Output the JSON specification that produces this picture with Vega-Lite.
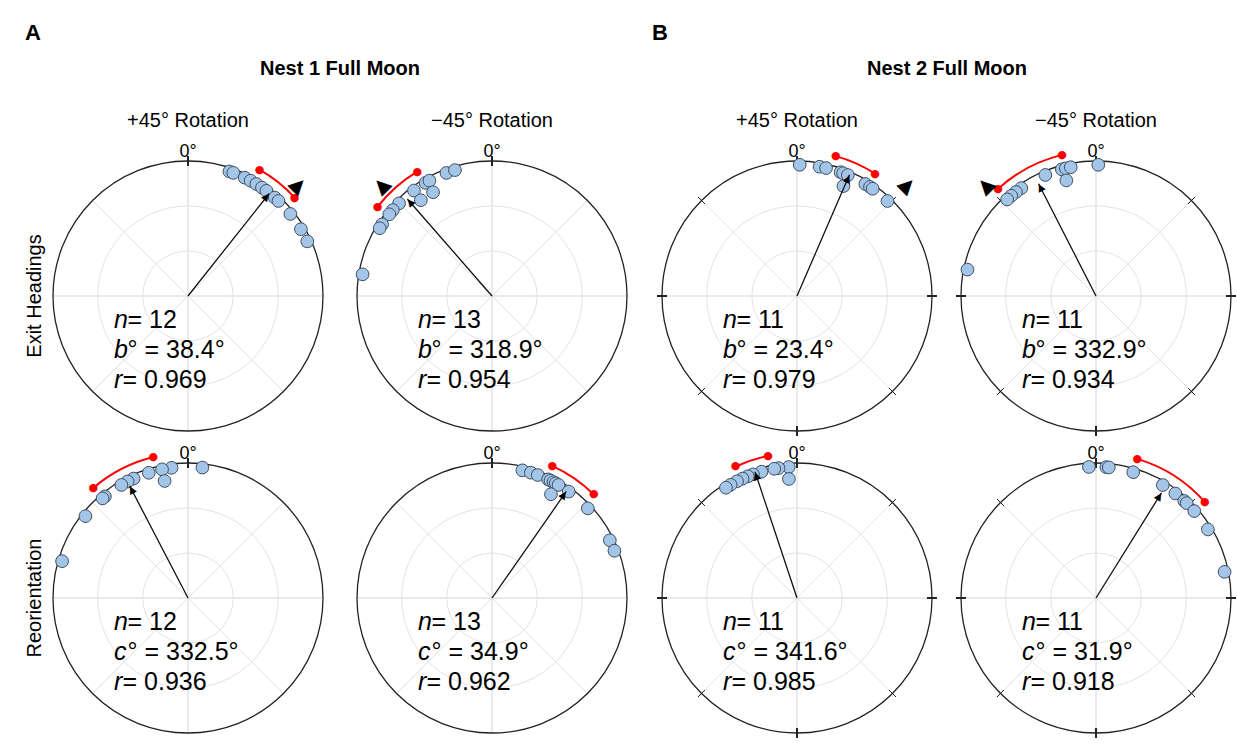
{
  "$schema": "https://vega.github.io/schema/vega-lite/v6.json",
  "padding": {"left": 24, "top": 22, "right": 5, "bottom": 5},
  "background": "white",
  "config": {"view": {"stroke": null}, "font": "Liberation Sans"},
  "data": {"values": [
    {"nest":"N1","measure":"Exit Headings","rot":"+45° Rotation","kind":"cell","n":12,"stat":"b","mean":38.4,"r":0.969,"lo":29.5,"hi":47.3,"exp":45,"spokes":[0,45,90,135,180,225,270,315]},
    {"nest":"N1","measure":"Exit Headings","rot":"−45° Rotation","kind":"cell","n":13,"stat":"b","mean":318.9,"r":0.954,"lo":308,"hi":329,"exp":315,"spokes":[0,45,90,135,180,225,270,315]},
    {"nest":"N1","measure":"Reorientation","rot":"+45° Rotation","kind":"cell","n":12,"stat":"c","mean":332.5,"r":0.936,"lo":319.3,"hi":346.2,"exp":null,"spokes":[0,45,90,135,180,225,270,315]},
    {"nest":"N1","measure":"Reorientation","rot":"−45° Rotation","kind":"cell","n":13,"stat":"c","mean":34.9,"r":0.962,"lo":24.5,"hi":44.5,"exp":null,"spokes":[0,45,90,135,180,225,270,315]},
    {"nest":"N2","measure":"Exit Headings","rot":"+45° Rotation","kind":"cell","n":11,"stat":"b","mean":23.4,"r":0.979,"lo":15.5,"hi":32.5,"exp":45,"spokes":[0,45,90,135,180,225,270,315]},
    {"nest":"N2","measure":"Exit Headings","rot":"−45° Rotation","kind":"cell","n":11,"stat":"b","mean":332.9,"r":0.934,"lo":317.5,"hi":346.5,"exp":315,"spokes":[0,45,90,135,180,225,270,315]},
    {"nest":"N2","measure":"Reorientation","rot":"+45° Rotation","kind":"cell","n":11,"stat":"c","mean":341.6,"r":0.985,"lo":335,"hi":348.5,"exp":null,"spokes":[0,45,90,135,180,225,270,315]},
    {"nest":"N2","measure":"Reorientation","rot":"−45° Rotation","kind":"cell","n":11,"stat":"c","mean":31.9,"r":0.918,"lo":16.5,"hi":48.5,"exp":null,"spokes":[0,45,90,135,180,225,270,315]},

    {"nest":"N1","measure":"Exit Headings","rot":"+45° Rotation","kind":"pt","angle":18.4,"stack":0},
    {"nest":"N1","measure":"Exit Headings","rot":"+45° Rotation","kind":"pt","angle":20.2,"stack":0},
    {"nest":"N1","measure":"Exit Headings","rot":"+45° Rotation","kind":"pt","angle":25.6,"stack":0},
    {"nest":"N1","measure":"Exit Headings","rot":"+45° Rotation","kind":"pt","angle":28.5,"stack":0},
    {"nest":"N1","measure":"Exit Headings","rot":"+45° Rotation","kind":"pt","angle":31.4,"stack":0},
    {"nest":"N1","measure":"Exit Headings","rot":"+45° Rotation","kind":"pt","angle":34.3,"stack":0},
    {"nest":"N1","measure":"Exit Headings","rot":"+45° Rotation","kind":"pt","angle":36.7,"stack":0},
    {"nest":"N1","measure":"Exit Headings","rot":"+45° Rotation","kind":"pt","angle":41.4,"stack":0},
    {"nest":"N1","measure":"Exit Headings","rot":"+45° Rotation","kind":"pt","angle":43.6,"stack":0},
    {"nest":"N1","measure":"Exit Headings","rot":"+45° Rotation","kind":"pt","angle":51.3,"stack":0},
    {"nest":"N1","measure":"Exit Headings","rot":"+45° Rotation","kind":"pt","angle":59.4,"stack":0},
    {"nest":"N1","measure":"Exit Headings","rot":"+45° Rotation","kind":"pt","angle":65.4,"stack":0},

    {"nest":"N1","measure":"Exit Headings","rot":"−45° Rotation","kind":"pt","angle":339.7,"stack":0},
    {"nest":"N1","measure":"Exit Headings","rot":"−45° Rotation","kind":"pt","angle":343.6,"stack":0},
    {"nest":"N1","measure":"Exit Headings","rot":"−45° Rotation","kind":"pt","angle":329.6,"stack":0},
    {"nest":"N1","measure":"Exit Headings","rot":"−45° Rotation","kind":"pt","angle":331.5,"stack":0},
    {"nest":"N1","measure":"Exit Headings","rot":"−45° Rotation","kind":"pt","angle":330.4,"stack":1},
    {"nest":"N1","measure":"Exit Headings","rot":"−45° Rotation","kind":"pt","angle":323.5,"stack":0},
    {"nest":"N1","measure":"Exit Headings","rot":"−45° Rotation","kind":"pt","angle":323.4,"stack":1},
    {"nest":"N1","measure":"Exit Headings","rot":"−45° Rotation","kind":"pt","angle":314.9,"stack":0},
    {"nest":"N1","measure":"Exit Headings","rot":"−45° Rotation","kind":"pt","angle":310.9,"stack":0},
    {"nest":"N1","measure":"Exit Headings","rot":"−45° Rotation","kind":"pt","angle":308.5,"stack":0},
    {"nest":"N1","measure":"Exit Headings","rot":"−45° Rotation","kind":"pt","angle":303.1,"stack":0},
    {"nest":"N1","measure":"Exit Headings","rot":"−45° Rotation","kind":"pt","angle":301.1,"stack":0},
    {"nest":"N1","measure":"Exit Headings","rot":"−45° Rotation","kind":"pt","angle":279.5,"stack":0},

    {"nest":"N1","measure":"Reorientation","rot":"+45° Rotation","kind":"pt","angle":6.3,"stack":0},
    {"nest":"N1","measure":"Reorientation","rot":"+45° Rotation","kind":"pt","angle":352.8,"stack":0},
    {"nest":"N1","measure":"Reorientation","rot":"+45° Rotation","kind":"pt","angle":348.6,"stack":0},
    {"nest":"N1","measure":"Reorientation","rot":"+45° Rotation","kind":"pt","angle":348.7,"stack":1},
    {"nest":"N1","measure":"Reorientation","rot":"+45° Rotation","kind":"pt","angle":342.6,"stack":0},
    {"nest":"N1","measure":"Reorientation","rot":"+45° Rotation","kind":"pt","angle":335.5,"stack":0},
    {"nest":"N1","measure":"Reorientation","rot":"+45° Rotation","kind":"pt","angle":332.6,"stack":0},
    {"nest":"N1","measure":"Reorientation","rot":"+45° Rotation","kind":"pt","angle":329.5,"stack":0},
    {"nest":"N1","measure":"Reorientation","rot":"+45° Rotation","kind":"pt","angle":320.7,"stack":0},
    {"nest":"N1","measure":"Reorientation","rot":"+45° Rotation","kind":"pt","angle":319.4,"stack":0},
    {"nest":"N1","measure":"Reorientation","rot":"+45° Rotation","kind":"pt","angle":308.6,"stack":0},
    {"nest":"N1","measure":"Reorientation","rot":"+45° Rotation","kind":"pt","angle":286.3,"stack":0},

    {"nest":"N1","measure":"Reorientation","rot":"−45° Rotation","kind":"pt","angle":13.4,"stack":0},
    {"nest":"N1","measure":"Reorientation","rot":"−45° Rotation","kind":"pt","angle":17.2,"stack":0},
    {"nest":"N1","measure":"Reorientation","rot":"−45° Rotation","kind":"pt","angle":20.4,"stack":0},
    {"nest":"N1","measure":"Reorientation","rot":"−45° Rotation","kind":"pt","angle":25.3,"stack":0},
    {"nest":"N1","measure":"Reorientation","rot":"−45° Rotation","kind":"pt","angle":26.5,"stack":0},
    {"nest":"N1","measure":"Reorientation","rot":"−45° Rotation","kind":"pt","angle":28.0,"stack":0},
    {"nest":"N1","measure":"Reorientation","rot":"−45° Rotation","kind":"pt","angle":29.1,"stack":0},
    {"nest":"N1","measure":"Reorientation","rot":"−45° Rotation","kind":"pt","angle":30.5,"stack":0},
    {"nest":"N1","measure":"Reorientation","rot":"−45° Rotation","kind":"pt","angle":29.6,"stack":1},
    {"nest":"N1","measure":"Reorientation","rot":"−45° Rotation","kind":"pt","angle":35.8,"stack":0},
    {"nest":"N1","measure":"Reorientation","rot":"−45° Rotation","kind":"pt","angle":46.9,"stack":0},
    {"nest":"N1","measure":"Reorientation","rot":"−45° Rotation","kind":"pt","angle":63.9,"stack":0},
    {"nest":"N1","measure":"Reorientation","rot":"−45° Rotation","kind":"pt","angle":68.9,"stack":0},

    {"nest":"N2","measure":"Exit Headings","rot":"+45° Rotation","kind":"pt","angle":1.2,"stack":0},
    {"nest":"N2","measure":"Exit Headings","rot":"+45° Rotation","kind":"pt","angle":9.9,"stack":0},
    {"nest":"N2","measure":"Exit Headings","rot":"+45° Rotation","kind":"pt","angle":12.8,"stack":0},
    {"nest":"N2","measure":"Exit Headings","rot":"+45° Rotation","kind":"pt","angle":19.4,"stack":0},
    {"nest":"N2","measure":"Exit Headings","rot":"+45° Rotation","kind":"pt","angle":20.6,"stack":0},
    {"nest":"N2","measure":"Exit Headings","rot":"+45° Rotation","kind":"pt","angle":22.8,"stack":0},
    {"nest":"N2","measure":"Exit Headings","rot":"+45° Rotation","kind":"pt","angle":22.9,"stack":1},
    {"nest":"N2","measure":"Exit Headings","rot":"+45° Rotation","kind":"pt","angle":31.4,"stack":0},
    {"nest":"N2","measure":"Exit Headings","rot":"+45° Rotation","kind":"pt","angle":33.8,"stack":0},
    {"nest":"N2","measure":"Exit Headings","rot":"+45° Rotation","kind":"pt","angle":35.2,"stack":0},
    {"nest":"N2","measure":"Exit Headings","rot":"+45° Rotation","kind":"pt","angle":43.6,"stack":0},

    {"nest":"N2","measure":"Exit Headings","rot":"−45° Rotation","kind":"pt","angle":1.0,"stack":0},
    {"nest":"N2","measure":"Exit Headings","rot":"−45° Rotation","kind":"pt","angle":344.9,"stack":0},
    {"nest":"N2","measure":"Exit Headings","rot":"−45° Rotation","kind":"pt","angle":346.7,"stack":0},
    {"nest":"N2","measure":"Exit Headings","rot":"−45° Rotation","kind":"pt","angle":348.9,"stack":0},
    {"nest":"N2","measure":"Exit Headings","rot":"−45° Rotation","kind":"pt","angle":345.6,"stack":1},
    {"nest":"N2","measure":"Exit Headings","rot":"−45° Rotation","kind":"pt","angle":337.3,"stack":0},
    {"nest":"N2","measure":"Exit Headings","rot":"−45° Rotation","kind":"pt","angle":325.3,"stack":0},
    {"nest":"N2","measure":"Exit Headings","rot":"−45° Rotation","kind":"pt","angle":322.4,"stack":0},
    {"nest":"N2","measure":"Exit Headings","rot":"−45° Rotation","kind":"pt","angle":319.8,"stack":0},
    {"nest":"N2","measure":"Exit Headings","rot":"−45° Rotation","kind":"pt","angle":317.4,"stack":0},
    {"nest":"N2","measure":"Exit Headings","rot":"−45° Rotation","kind":"pt","angle":281.6,"stack":0},

    {"nest":"N2","measure":"Reorientation","rot":"+45° Rotation","kind":"pt","angle":356.4,"stack":0},
    {"nest":"N2","measure":"Reorientation","rot":"+45° Rotation","kind":"pt","angle":356.1,"stack":1},
    {"nest":"N2","measure":"Reorientation","rot":"+45° Rotation","kind":"pt","angle":351.9,"stack":0},
    {"nest":"N2","measure":"Reorientation","rot":"+45° Rotation","kind":"pt","angle":350.0,"stack":0},
    {"nest":"N2","measure":"Reorientation","rot":"+45° Rotation","kind":"pt","angle":344.3,"stack":0},
    {"nest":"N2","measure":"Reorientation","rot":"+45° Rotation","kind":"pt","angle":340.4,"stack":0},
    {"nest":"N2","measure":"Reorientation","rot":"+45° Rotation","kind":"pt","angle":338.0,"stack":0},
    {"nest":"N2","measure":"Reorientation","rot":"+45° Rotation","kind":"pt","angle":335.5,"stack":0},
    {"nest":"N2","measure":"Reorientation","rot":"+45° Rotation","kind":"pt","angle":332.8,"stack":0},
    {"nest":"N2","measure":"Reorientation","rot":"+45° Rotation","kind":"pt","angle":329.6,"stack":0},
    {"nest":"N2","measure":"Reorientation","rot":"+45° Rotation","kind":"pt","angle":327.2,"stack":0},

    {"nest":"N2","measure":"Reorientation","rot":"−45° Rotation","kind":"pt","angle":356.9,"stack":0},
    {"nest":"N2","measure":"Reorientation","rot":"−45° Rotation","kind":"pt","angle":4.5,"stack":0},
    {"nest":"N2","measure":"Reorientation","rot":"−45° Rotation","kind":"pt","angle":5.6,"stack":0},
    {"nest":"N2","measure":"Reorientation","rot":"−45° Rotation","kind":"pt","angle":16.5,"stack":0},
    {"nest":"N2","measure":"Reorientation","rot":"−45° Rotation","kind":"pt","angle":30.6,"stack":0},
    {"nest":"N2","measure":"Reorientation","rot":"−45° Rotation","kind":"pt","angle":37.2,"stack":0},
    {"nest":"N2","measure":"Reorientation","rot":"−45° Rotation","kind":"pt","angle":42.3,"stack":0},
    {"nest":"N2","measure":"Reorientation","rot":"−45° Rotation","kind":"pt","angle":43.7,"stack":0},
    {"nest":"N2","measure":"Reorientation","rot":"−45° Rotation","kind":"pt","angle":48.5,"stack":0},
    {"nest":"N2","measure":"Reorientation","rot":"−45° Rotation","kind":"pt","angle":58.5,"stack":0},
    {"nest":"N2","measure":"Reorientation","rot":"−45° Rotation","kind":"pt","angle":78.5,"stack":0}
  ]},
  "spacing": 15,
  "hconcat": [
    {
      "transform": [{"filter": "datum.nest === 'N1'"}],
      "title": {"text": "A", "anchor": "start", "fontSize": 22, "fontWeight": "bold", "color": "#000", "offset": 14, "font": "Liberation Sans"},
      "facet": {
        "row": {"field": "measure", "type": "nominal", "title": null,
          "header": {"labelAngle": -90, "labelOrient": "left", "labelFontSize": 20, "labelFont": "Liberation Sans", "labelColor": "#000", "labelPadding": -12}},
        "column": {"field": "rot", "type": "nominal", "title": "Nest 1 Full Moon", "sort": ["+45° Rotation", "−45° Rotation"],
          "header": {"labelFontSize": 20, "labelFont": "Liberation Sans", "labelColor": "#000", "labelPadding": 20,
            "titleFontSize": 20, "titleFontWeight": "bold", "titleFont": "Liberation Sans", "titleColor": "#000", "titlePadding": 22}}
      },
      "spacing": {"row": 12, "column": 14},
      "bounds": "flush",
      "spec": {
        "width": 290, "height": 290,
        "layer": [
          {"transform": [{"filter": "datum.kind === 'cell'"}],
           "mark": {"type": "arc", "filled": false, "stroke": "#e3e3e3", "strokeWidth": 1},
           "encoding": {"theta": {"datum": 0, "type": "quantitative", "stack": null}, "theta2": {"datum": 360}, "radius": {"datum": 0.3333, "type": "quantitative", "stack": null}}},
          {"transform": [{"filter": "datum.kind === 'cell'"}],
           "mark": {"type": "arc", "filled": false, "stroke": "#e3e3e3", "strokeWidth": 1},
           "encoding": {"theta": {"datum": 0, "type": "quantitative", "stack": null}, "theta2": {"datum": 360}, "radius": {"datum": 0.6667, "type": "quantitative", "stack": null}}},
          {"transform": [{"filter": "datum.kind === 'cell'"}, {"flatten": ["spokes"]}],
           "mark": {"type": "arc", "filled": false, "stroke": "#e3e3e3", "strokeWidth": 1},
           "encoding": {"theta": {"field": "spokes", "type": "quantitative", "stack": null, "scale": {"type": "linear", "domain": [0, 360], "range": [0, 6.283185307179586]}}, "theta2": {"field": "spokes"}, "radius": {"datum": 1, "type": "quantitative", "stack": null}}},
          {"transform": [{"filter": "datum.kind === 'cell'"}],
           "mark": {"type": "arc", "filled": false, "stroke": "#222", "strokeWidth": 1.3},
           "encoding": {"theta": {"datum": 0, "type": "quantitative", "stack": null}, "theta2": {"datum": 360}, "radius": {"datum": 1, "type": "quantitative", "stack": null}}},
          {"transform": [{"filter": "datum.kind === 'cell'"}, {"flatten": ["spokes"]}],
           "mark": {"type": "arc", "filled": false, "stroke": "#222", "strokeWidth": 1},
           "encoding": {"theta": {"field": "spokes", "type": "quantitative", "stack": null}, "theta2": {"field": "spokes"}, "radius": {"datum": 1.035, "type": "quantitative", "stack": null}, "radius2": {"datum": 0.965}}},
          {"transform": [{"filter": "datum.kind === 'cell'"}],
           "mark": {"type": "arc", "filled": false, "stroke": "#ff0000", "strokeWidth": 2},
           "encoding": {"theta": {"field": "lo", "type": "quantitative", "stack": null}, "theta2": {"field": "hi"}, "radius": {"datum": 1.075, "type": "quantitative", "stack": null}, "radius2": {"datum": 1.075}}},
          {"transform": [{"filter": "datum.kind === 'cell'"}],
           "mark": {"type": "text", "text": "●", "font": "DejaVu Sans", "fontSize": 11, "align": "center", "baseline": "middle", "color": "#ff0000"},
           "encoding": {"theta": {"field": "lo", "type": "quantitative", "stack": null}, "radius": {"datum": 1.075, "type": "quantitative", "stack": null}}},
          {"transform": [{"filter": "datum.kind === 'cell'"}],
           "mark": {"type": "text", "text": "●", "font": "DejaVu Sans", "fontSize": 11, "align": "center", "baseline": "middle", "color": "#ff0000"},
           "encoding": {"theta": {"field": "hi", "type": "quantitative", "stack": null}, "radius": {"datum": 1.075, "type": "quantitative", "stack": null}}},
          {"transform": [{"filter": "datum.kind === 'pt'"},
             {"calculate": "0.972 - 0.088 * datum.stack", "as": "rc"},
             {"calculate": "datum.rc + 0.047", "as": "ro"},
             {"calculate": "datum.rc - 0.047", "as": "ri"},
             {"calculate": "datum.angle - 0.047 / datum.rc * 180 / PI", "as": "t1"},
             {"calculate": "datum.angle + 0.047 / datum.rc * 180 / PI", "as": "t2"}],
           "mark": {"type": "arc", "cornerRadius": 6.3, "fill": "#a3c5e8", "stroke": "#3f4e62", "strokeWidth": 1},
           "encoding": {"theta": {"field": "t1", "type": "quantitative", "stack": null}, "theta2": {"field": "t2"},
             "radius": {"field": "ro", "type": "quantitative", "stack": null, "scale": {"type": "linear", "domain": [0, 1], "range": [0, 135], "zero": true}}, "radius2": {"field": "ri"}}},
          {"transform": [{"filter": "datum.kind === 'cell'"}],
           "mark": {"type": "arc", "filled": false, "stroke": "#111", "strokeWidth": 1.3},
           "encoding": {"theta": {"field": "mean", "type": "quantitative", "stack": null}, "theta2": {"field": "mean"}, "radius": {"field": "r", "type": "quantitative", "stack": null}}},
          {"transform": [{"filter": "datum.kind === 'cell'"}, {"calculate": "datum.r - 0.03", "as": "rh"}],
           "mark": {"type": "text", "text": "▲", "font": "DejaVu Sans", "fontSize": 10, "align": "center", "baseline": "middle", "color": "#000"},
           "encoding": {"theta": {"field": "mean", "type": "quantitative", "stack": null}, "radius": {"field": "rh", "type": "quantitative", "stack": null},
             "angle": {"field": "mean", "type": "quantitative", "scale": {"domain": [0, 360], "range": [0, 360]}}}},
          {"transform": [{"filter": "datum.kind === 'cell' && isValid(datum.exp)"}],
           "mark": {"type": "text", "text": "▲", "font": "DejaVu Sans", "fontSize": 20, "align": "center", "baseline": "middle", "color": "#000"},
           "encoding": {"theta": {"field": "exp", "type": "quantitative", "stack": null}, "radius": {"datum": 1.16, "type": "quantitative", "stack": null},
             "angle": {"field": "exp", "type": "quantitative", "scale": {"domain": [0, 360], "range": [0, 360]}}}},
          {"transform": [{"filter": "datum.kind === 'cell'"}],
           "mark": {"type": "text", "text": "0°", "fontSize": 18, "align": "center", "baseline": "alphabetic", "color": "#000"},
           "encoding": {"theta": {"datum": 0, "type": "quantitative", "stack": null}, "radius": {"datum": 1.03, "type": "quantitative", "stack": null}}},
          {"transform": [{"filter": "datum.kind === 'cell'"}],
           "mark": {"type": "text", "text": "n", "fontSize": 25, "fontStyle": "italic", "align": "left", "baseline": "alphabetic", "color": "#000"},
           "encoding": {"theta": {"datum": 246.6, "type": "quantitative", "stack": null}, "radius": {"datum": 0.5971, "type": "quantitative", "stack": null}}},
          {"transform": [{"filter": "datum.kind === 'cell'"}, {"calculate": "' = ' + datum.n", "as": "l1"}],
           "mark": {"type": "text", "fontSize": 25, "align": "left", "baseline": "alphabetic", "dx": 13.5, "color": "#000"},
           "encoding": {"theta": {"datum": 246.6, "type": "quantitative", "stack": null}, "radius": {"datum": 0.5971, "type": "quantitative", "stack": null}, "text": {"field": "l1", "type": "nominal"}}},
          {"transform": [{"filter": "datum.kind === 'cell'"}],
           "mark": {"type": "text", "fontSize": 25, "fontStyle": "italic", "align": "left", "baseline": "alphabetic", "color": "#000"},
           "encoding": {"theta": {"datum": 230.05, "type": "quantitative", "stack": null}, "radius": {"datum": 0.7148, "type": "quantitative", "stack": null}, "text": {"field": "stat", "type": "nominal"}}},
          {"transform": [{"filter": "datum.kind === 'cell'"}, {"calculate": "'° = ' + format(datum.mean, '.1f') + '°'", "as": "l2"}],
           "mark": {"type": "text", "fontSize": 25, "align": "left", "baseline": "alphabetic", "dx": 13.5, "color": "#000"},
           "encoding": {"theta": {"datum": 230.05, "type": "quantitative", "stack": null}, "radius": {"datum": 0.7148, "type": "quantitative", "stack": null}, "text": {"field": "l2", "type": "nominal"}}},
          {"transform": [{"filter": "datum.kind === 'cell'"}],
           "mark": {"type": "text", "text": "r", "fontSize": 25, "fontStyle": "italic", "align": "left", "baseline": "alphabetic", "color": "#000"},
           "encoding": {"theta": {"datum": 218.83, "type": "quantitative", "stack": null}, "radius": {"datum": 0.8741, "type": "quantitative", "stack": null}}},
          {"transform": [{"filter": "datum.kind === 'cell'"}, {"calculate": "' = ' + format(datum.r, '.3f')", "as": "l3"}],
           "mark": {"type": "text", "fontSize": 25, "align": "left", "baseline": "alphabetic", "dx": 8.5, "color": "#000"},
           "encoding": {"theta": {"datum": 218.83, "type": "quantitative", "stack": null}, "radius": {"datum": 0.8741, "type": "quantitative", "stack": null}, "text": {"field": "l3", "type": "nominal"}}}
        ]
      }
    },
    {
      "transform": [{"filter": "datum.nest === 'N2'"}],
      "title": {"text": "B", "anchor": "start", "fontSize": 22, "fontWeight": "bold", "color": "#000", "offset": 14, "font": "Liberation Sans"},
      "facet": {
        "row": {"field": "measure", "type": "nominal", "title": null, "header": {"labels": false}},
        "column": {"field": "rot", "type": "nominal", "title": "Nest 2 Full Moon", "sort": ["+45° Rotation", "−45° Rotation"],
          "header": {"labelFontSize": 20, "labelFont": "Liberation Sans", "labelColor": "#000", "labelPadding": 20,
            "titleFontSize": 20, "titleFontWeight": "bold", "titleFont": "Liberation Sans", "titleColor": "#000", "titlePadding": 22}}
      },
      "spacing": {"row": 12, "column": 9},
      "bounds": "flush",
      "spec": {
        "width": 290, "height": 290,
        "layer": [
          {"transform": [{"filter": "datum.kind === 'cell'"}],
           "mark": {"type": "arc", "filled": false, "stroke": "#e3e3e3", "strokeWidth": 1},
           "encoding": {"theta": {"datum": 0, "type": "quantitative", "stack": null}, "theta2": {"datum": 360}, "radius": {"datum": 0.3333, "type": "quantitative", "stack": null}}},
          {"transform": [{"filter": "datum.kind === 'cell'"}],
           "mark": {"type": "arc", "filled": false, "stroke": "#e3e3e3", "strokeWidth": 1},
           "encoding": {"theta": {"datum": 0, "type": "quantitative", "stack": null}, "theta2": {"datum": 360}, "radius": {"datum": 0.6667, "type": "quantitative", "stack": null}}},
          {"transform": [{"filter": "datum.kind === 'cell'"}, {"flatten": ["spokes"]}],
           "mark": {"type": "arc", "filled": false, "stroke": "#e3e3e3", "strokeWidth": 1},
           "encoding": {"theta": {"field": "spokes", "type": "quantitative", "stack": null, "scale": {"type": "linear", "domain": [0, 360], "range": [0, 6.283185307179586]}}, "theta2": {"field": "spokes"}, "radius": {"datum": 1, "type": "quantitative", "stack": null}}},
          {"transform": [{"filter": "datum.kind === 'cell'"}],
           "mark": {"type": "arc", "filled": false, "stroke": "#222", "strokeWidth": 1.3},
           "encoding": {"theta": {"datum": 0, "type": "quantitative", "stack": null}, "theta2": {"datum": 360}, "radius": {"datum": 1, "type": "quantitative", "stack": null}}},
          {"transform": [{"filter": "datum.kind === 'cell'"}, {"flatten": ["spokes"]}],
           "mark": {"type": "arc", "filled": false, "stroke": "#222", "strokeWidth": 1},
           "encoding": {"theta": {"field": "spokes", "type": "quantitative", "stack": null}, "theta2": {"field": "spokes"}, "radius": {"datum": 1.035, "type": "quantitative", "stack": null}, "radius2": {"datum": 0.965}}},
          {"transform": [{"filter": "datum.kind === 'cell'"}],
           "mark": {"type": "arc", "filled": false, "stroke": "#ff0000", "strokeWidth": 2},
           "encoding": {"theta": {"field": "lo", "type": "quantitative", "stack": null}, "theta2": {"field": "hi"}, "radius": {"datum": 1.075, "type": "quantitative", "stack": null}, "radius2": {"datum": 1.075}}},
          {"transform": [{"filter": "datum.kind === 'cell'"}],
           "mark": {"type": "text", "text": "●", "font": "DejaVu Sans", "fontSize": 11, "align": "center", "baseline": "middle", "color": "#ff0000"},
           "encoding": {"theta": {"field": "lo", "type": "quantitative", "stack": null}, "radius": {"datum": 1.075, "type": "quantitative", "stack": null}}},
          {"transform": [{"filter": "datum.kind === 'cell'"}],
           "mark": {"type": "text", "text": "●", "font": "DejaVu Sans", "fontSize": 11, "align": "center", "baseline": "middle", "color": "#ff0000"},
           "encoding": {"theta": {"field": "hi", "type": "quantitative", "stack": null}, "radius": {"datum": 1.075, "type": "quantitative", "stack": null}}},
          {"transform": [{"filter": "datum.kind === 'pt'"},
             {"calculate": "0.972 - 0.088 * datum.stack", "as": "rc"},
             {"calculate": "datum.rc + 0.047", "as": "ro"},
             {"calculate": "datum.rc - 0.047", "as": "ri"},
             {"calculate": "datum.angle - 0.047 / datum.rc * 180 / PI", "as": "t1"},
             {"calculate": "datum.angle + 0.047 / datum.rc * 180 / PI", "as": "t2"}],
           "mark": {"type": "arc", "cornerRadius": 6.3, "fill": "#a3c5e8", "stroke": "#3f4e62", "strokeWidth": 1},
           "encoding": {"theta": {"field": "t1", "type": "quantitative", "stack": null}, "theta2": {"field": "t2"},
             "radius": {"field": "ro", "type": "quantitative", "stack": null, "scale": {"type": "linear", "domain": [0, 1], "range": [0, 135], "zero": true}}, "radius2": {"field": "ri"}}},
          {"transform": [{"filter": "datum.kind === 'cell'"}],
           "mark": {"type": "arc", "filled": false, "stroke": "#111", "strokeWidth": 1.3},
           "encoding": {"theta": {"field": "mean", "type": "quantitative", "stack": null}, "theta2": {"field": "mean"}, "radius": {"field": "r", "type": "quantitative", "stack": null}}},
          {"transform": [{"filter": "datum.kind === 'cell'"}, {"calculate": "datum.r - 0.03", "as": "rh"}],
           "mark": {"type": "text", "text": "▲", "font": "DejaVu Sans", "fontSize": 10, "align": "center", "baseline": "middle", "color": "#000"},
           "encoding": {"theta": {"field": "mean", "type": "quantitative", "stack": null}, "radius": {"field": "rh", "type": "quantitative", "stack": null},
             "angle": {"field": "mean", "type": "quantitative", "scale": {"domain": [0, 360], "range": [0, 360]}}}},
          {"transform": [{"filter": "datum.kind === 'cell' && isValid(datum.exp)"}],
           "mark": {"type": "text", "text": "▲", "font": "DejaVu Sans", "fontSize": 20, "align": "center", "baseline": "middle", "color": "#000"},
           "encoding": {"theta": {"field": "exp", "type": "quantitative", "stack": null}, "radius": {"datum": 1.16, "type": "quantitative", "stack": null},
             "angle": {"field": "exp", "type": "quantitative", "scale": {"domain": [0, 360], "range": [0, 360]}}}},
          {"transform": [{"filter": "datum.kind === 'cell'"}],
           "mark": {"type": "text", "text": "0°", "fontSize": 18, "align": "center", "baseline": "alphabetic", "color": "#000"},
           "encoding": {"theta": {"datum": 0, "type": "quantitative", "stack": null}, "radius": {"datum": 1.03, "type": "quantitative", "stack": null}}},
          {"transform": [{"filter": "datum.kind === 'cell'"}],
           "mark": {"type": "text", "text": "n", "fontSize": 25, "fontStyle": "italic", "align": "left", "baseline": "alphabetic", "color": "#000"},
           "encoding": {"theta": {"datum": 246.6, "type": "quantitative", "stack": null}, "radius": {"datum": 0.5971, "type": "quantitative", "stack": null}}},
          {"transform": [{"filter": "datum.kind === 'cell'"}, {"calculate": "' = ' + datum.n", "as": "l1"}],
           "mark": {"type": "text", "fontSize": 25, "align": "left", "baseline": "alphabetic", "dx": 13.5, "color": "#000"},
           "encoding": {"theta": {"datum": 246.6, "type": "quantitative", "stack": null}, "radius": {"datum": 0.5971, "type": "quantitative", "stack": null}, "text": {"field": "l1", "type": "nominal"}}},
          {"transform": [{"filter": "datum.kind === 'cell'"}],
           "mark": {"type": "text", "fontSize": 25, "fontStyle": "italic", "align": "left", "baseline": "alphabetic", "color": "#000"},
           "encoding": {"theta": {"datum": 230.05, "type": "quantitative", "stack": null}, "radius": {"datum": 0.7148, "type": "quantitative", "stack": null}, "text": {"field": "stat", "type": "nominal"}}},
          {"transform": [{"filter": "datum.kind === 'cell'"}, {"calculate": "'° = ' + format(datum.mean, '.1f') + '°'", "as": "l2"}],
           "mark": {"type": "text", "fontSize": 25, "align": "left", "baseline": "alphabetic", "dx": 13.5, "color": "#000"},
           "encoding": {"theta": {"datum": 230.05, "type": "quantitative", "stack": null}, "radius": {"datum": 0.7148, "type": "quantitative", "stack": null}, "text": {"field": "l2", "type": "nominal"}}},
          {"transform": [{"filter": "datum.kind === 'cell'"}],
           "mark": {"type": "text", "text": "r", "fontSize": 25, "fontStyle": "italic", "align": "left", "baseline": "alphabetic", "color": "#000"},
           "encoding": {"theta": {"datum": 218.83, "type": "quantitative", "stack": null}, "radius": {"datum": 0.8741, "type": "quantitative", "stack": null}}},
          {"transform": [{"filter": "datum.kind === 'cell'"}, {"calculate": "' = ' + format(datum.r, '.3f')", "as": "l3"}],
           "mark": {"type": "text", "fontSize": 25, "align": "left", "baseline": "alphabetic", "dx": 8.5, "color": "#000"},
           "encoding": {"theta": {"datum": 218.83, "type": "quantitative", "stack": null}, "radius": {"datum": 0.8741, "type": "quantitative", "stack": null}, "text": {"field": "l3", "type": "nominal"}}}
        ]
      }
    }
  ]
}
